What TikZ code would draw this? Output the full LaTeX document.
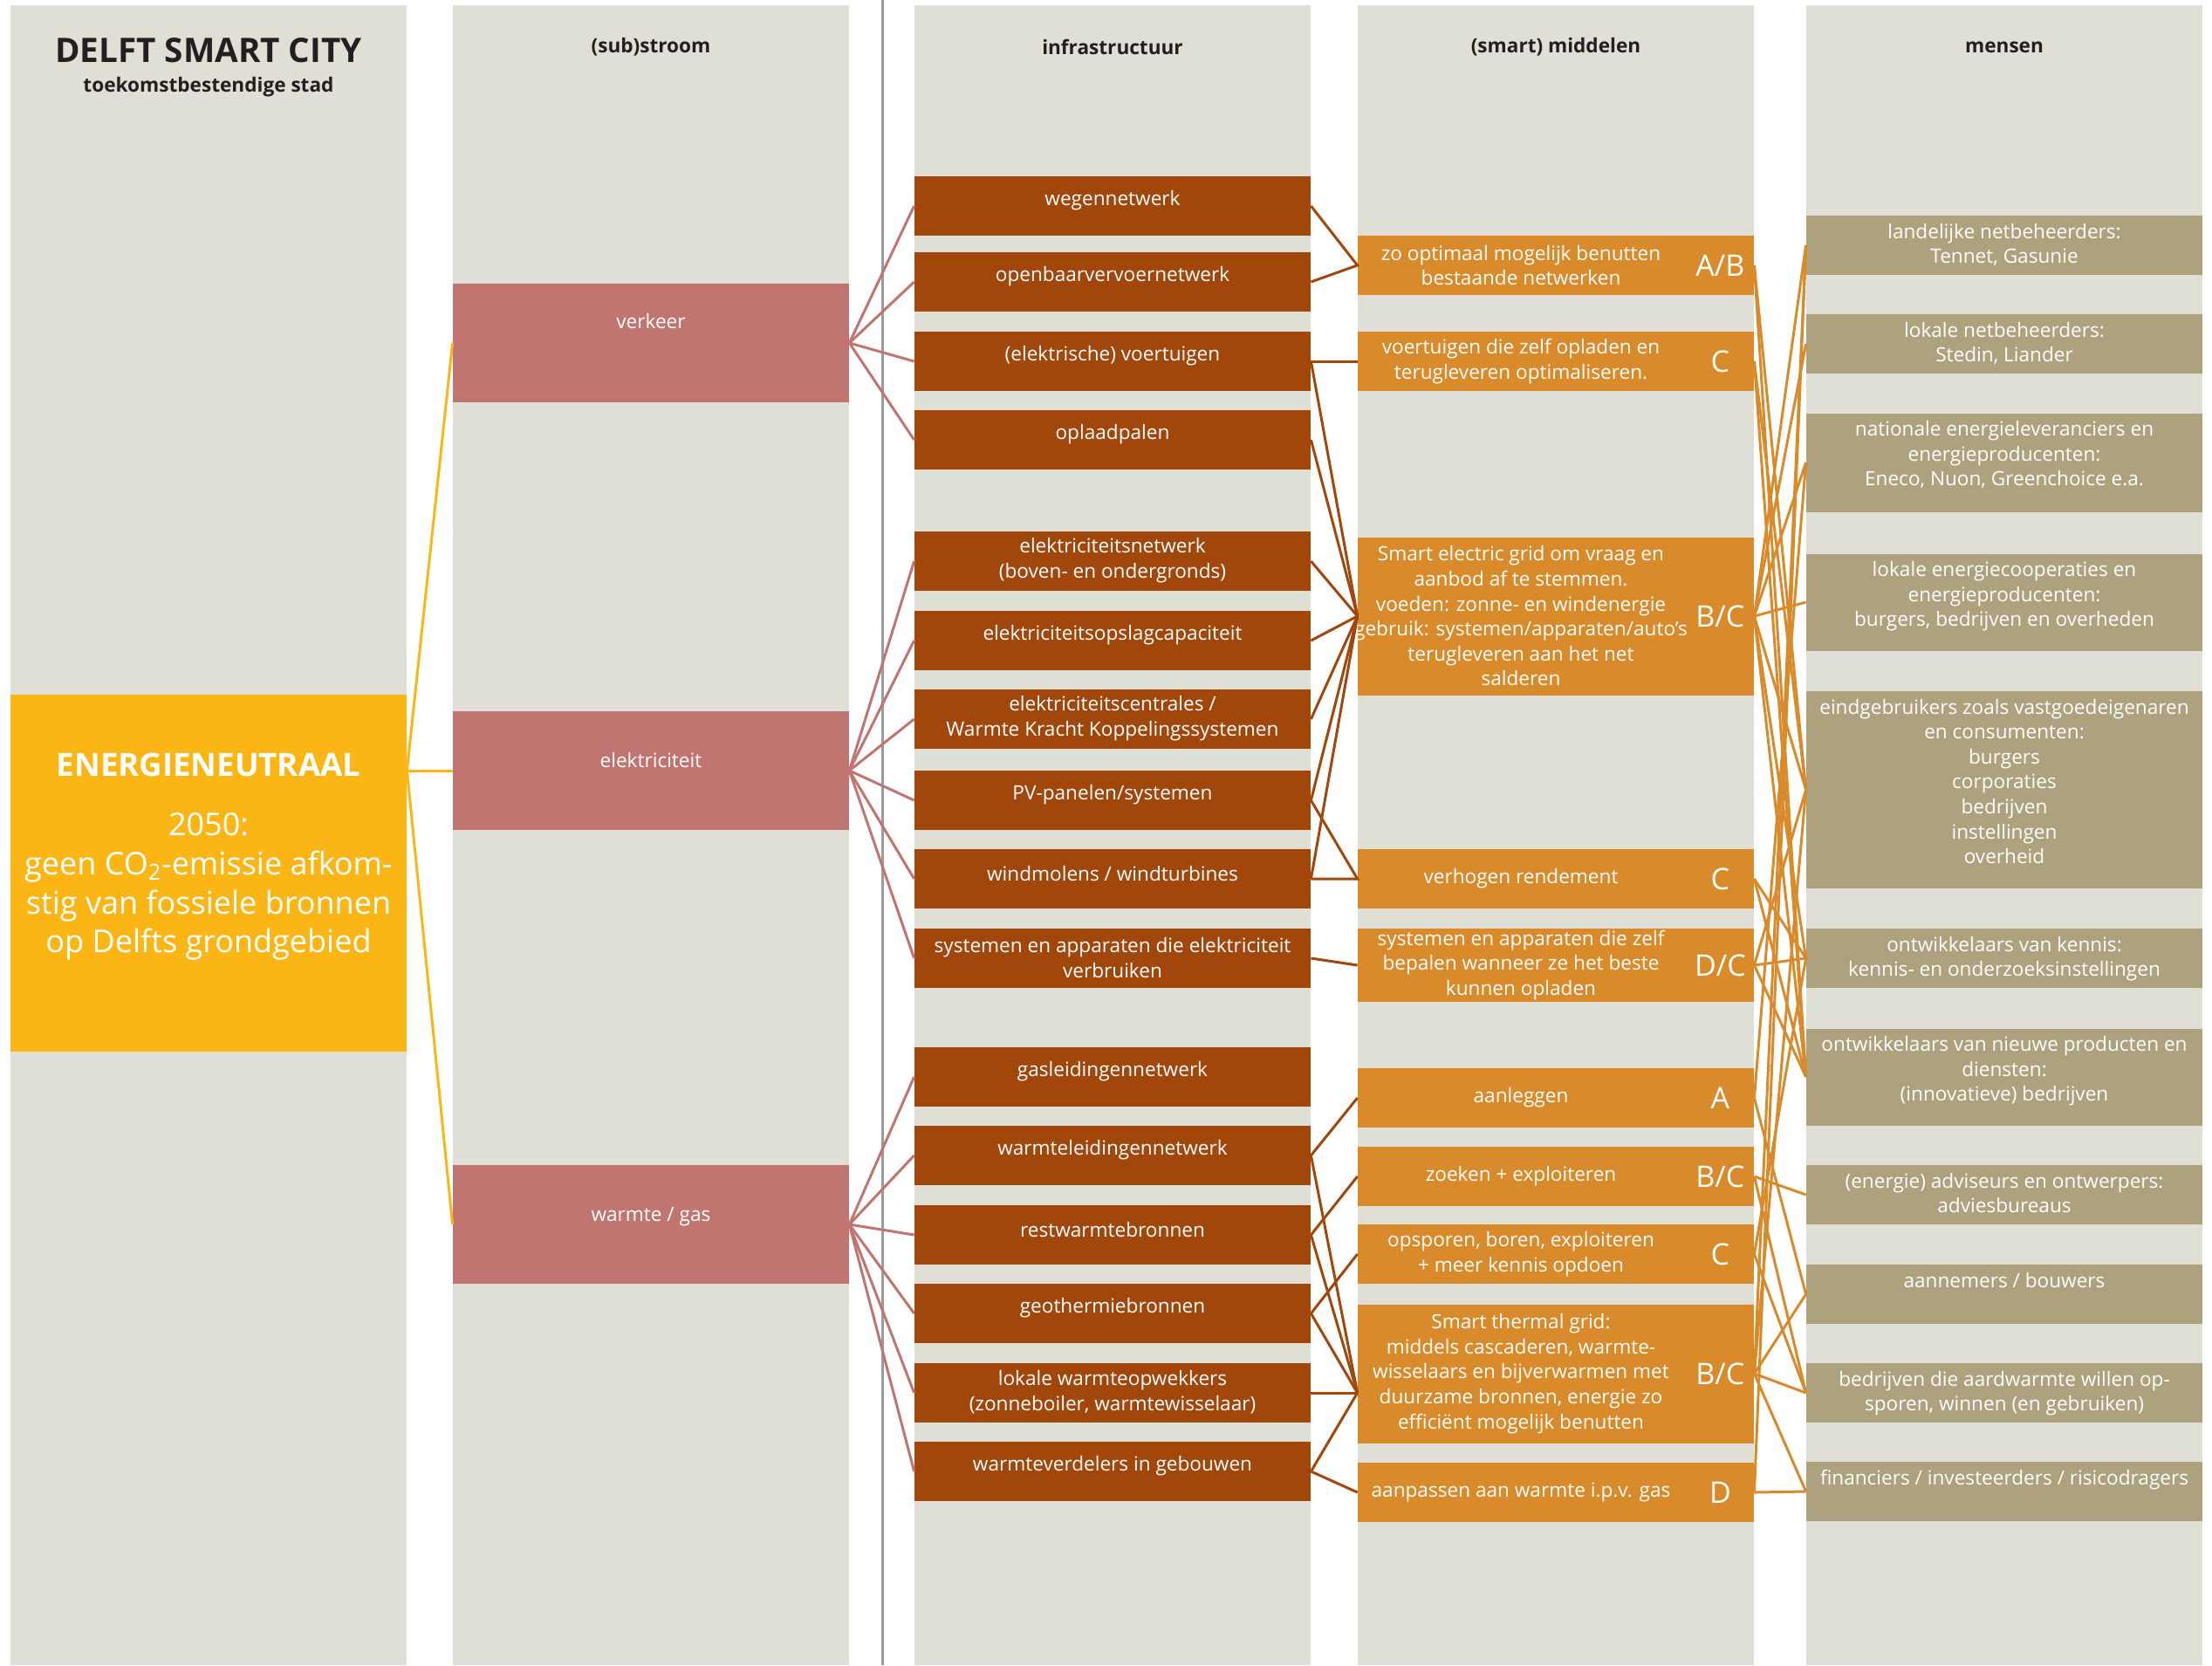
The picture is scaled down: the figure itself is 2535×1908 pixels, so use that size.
\documentclass[tikz,border=0pt]{standalone}
\usepackage{fontspec}
\setmainfont{Open Sans}

\definecolor{colbg}{HTML}{E0DFD5}
\definecolor{goalyellow}{HTML}{FBB616}
\definecolor{stroompink}{HTML}{C17571}
\definecolor{infrabrown}{HTML}{A2470C}
\definecolor{middelorange}{HTML}{D98A2A}
\definecolor{mensenkhaki}{HTML}{ADA17E}
\definecolor{divgrey}{HTML}{9B9B9B}
\definecolor{titleblack}{HTML}{231F20}

\tikzset{
    % Columns
    column/.style={fill=colbg},
    divider/.style={draw=divgrey, line width=1.5pt},
    header/.style={text=titleblack, font=\fontsize{11.3}{13}\selectfont\bfseries},
    %
    % Boxes
    box text/.style={text=white, align=center, inner sep=0pt, anchor=center, font=\fontsize{11.3}{14.3}\selectfont},
    basic box/.style={minimum width=227pt, inner sep=0pt},
    goal box/.style={basic box, fill=goalyellow, minimum height=204.5pt},
    goal text/.style={text=white, align=center, inner sep=0pt, anchor=center, font=\fontsize{18}{22.3}\selectfont},
    stroom/.style 2 args={basic box, fill=stroompink, minimum height=68pt, label={[box text, yshift=#2]center:{#1}}},
    infra/.style={basic box, fill=infrabrown, minimum height=34pt, label={[box text, yshift=3pt]center:{#1}}},
    infra2/.style={basic box, fill=infrabrown, minimum height=34pt, label={[box text, yshift=0.3pt]center:{#1}}},
    letter/.style={text=white, inner sep=0pt, anchor=center, xshift=-19.5pt, font=\fontsize{17}{20}\selectfont},
    middel/.style n args={3}{basic box, fill=middelorange, minimum height=#3, label={[box text, xshift=-20pt]center:{#1}}, label={[letter]east:#2}},
    mens/.style 2 args={basic box, fill=mensenkhaki, minimum height=#2, label={[box text, anchor=north, yshift=-4.5pt]north:{#1}}},
    %
    % Connectors
    goal line/.style={draw=goalyellow, line width=1.5pt},
    stroom line/.style={draw=stroompink, line width=1.5pt},
    infra line/.style={draw=infrabrown, line width=1.5pt},
    middel line/.style={draw=middelorange, line width=1.5pt}
}

\begin{document}
\begin{tikzpicture}[x=0.5pt, y=-0.5pt]
    \useasboundingbox (0,0) rectangle (2535,1908);

    % columns
    \foreach \x in {12,519,1048,1556,2070}
        \fill[column] (\x,6) rectangle ++(454,1902);
    \draw[divider] (1011,0) -- (1011,1908);

    % headers
    \node[text=titleblack, font=\fontsize{19.3}{21}\selectfont\bfseries] (title) at (239,58) {DELFT SMART CITY};
    \node[text=titleblack, font=\fontsize{11.3}{13}\selectfont\bfseries] (subtitle) at (239,100) {toekomstbestendige stad};
    \node[header] (h-stroom) at (746,54) {(sub)stroom};
    \node[header] (h-infra) at (1275,54) {infrastructuur};
    \node[header] (h-middel) at (1783,54) {(smart) middelen};
    \node[header] (h-mens) at (2297,54) {mensen};

    % goal
    \node[goal box, label={[goal text, yshift=9.25pt]center:{{\fontsize{18.3}{22}\selectfont\bfseries ENERGIENEUTRAAL}\\[12pt]2050:\\geen CO\textsubscript{2}-emissie afkom-\\stig van fossiele bronnen\\op Delfts grondgebied}}] (neutraal) at (239,1000) {};

    % (sub)stroom
    \node[stroom={verkeer}{12.5pt}] (verkeer) at (746,393) {};
    \node[stroom={elektriciteit}{6pt}] (elek) at (746,883) {};
    \node[stroom={warmte / gas}{4.5pt}] (warmte) at (746,1403) {};

    % infrastructuur
    \node[infra=wegennetwerk] (wegen) at (1275,236) {};
    \node[infra=openbaarvervoernetwerk] (ov) at (1275,323) {};
    \node[infra={(elektrische) voertuigen}] (voertuig) at (1275,414) {};
    \node[infra=oplaadpalen] (oplaad) at (1275,504) {};
    \node[infra2={elektriciteitsnetwerk\\(boven- en ondergronds)}] (elnet) at (1275,643) {};
    \node[infra=elektriciteitsopslagcapaciteit] (opslag) at (1275,734) {};
    \node[infra2={elektriciteitscentrales /\\Warmte Kracht Koppelingssystemen}] (centrales) at (1275,824) {};
    \node[infra=PV-panelen/systemen] (pv) at (1275,917) {};
    \node[infra={windmolens / windturbines}] (wind) at (1275,1007) {};
    \node[infra2={systemen en apparaten die elektriciteit\\verbruiken}] (verbruik) at (1275,1098) {};
    \node[infra=gasleidingennetwerk] (gasnet) at (1275,1234) {};
    \node[infra=warmteleidingennetwerk] (warmtenet) at (1275,1324) {};
    \node[infra=restwarmtebronnen] (restwarmte) at (1275,1415) {};
    \node[infra=geothermiebronnen] (geo) at (1275,1505) {};
    \node[infra2={lokale warmteopwekkers\\(zonneboiler, warmtewisselaar)}] (lokaal) at (1275,1596) {};
    \node[infra={warmteverdelers in gebouwen}] (verdelers) at (1275,1686) {};

    % (smart) middelen
    \node[middel={zo optimaal mogelijk benutten\\bestaande netwerken}{A/B}{34pt}] (optimaal) at (1783,304) {};
    \node[middel={voertuigen die zelf opladen en\\terugleveren optimaliseren.}{C}{34pt}] (mvoertuig) at (1783,414) {};
    \node[middel={Smart electric grid om vraag en\\aanbod af te stemmen.\\voeden: zonne- en windenergie\\gebruik: systemen/apparaten/auto’s\\terugleveren aan het net\\salderen}{B/C}{90.5pt}] (grid) at (1783,706) {};
    \node[middel={verhogen rendement}{C}{34pt}] (rendement) at (1783,1007) {};
    \node[middel={systemen en apparaten die zelf\\bepalen wanneer ze het beste\\kunnen opladen}{D/C}{42pt}] (zelfladen) at (1783,1106) {};
    \node[middel={aanleggen}{A}{34pt}] (aanleggen) at (1783,1258) {};
    \node[middel={zoeken + exploiteren}{B/C}{34pt}] (zoeken) at (1783,1348) {};
    \node[middel={opsporen, boren, exploiteren\\+ meer kennis opdoen}{C}{34pt}] (opsporen) at (1783,1437) {};
    \node[middel={Smart thermal grid:\\middels cascaderen, warmte-\\wisselaars en bijverwarmen met\\duurzame bronnen, energie zo\\efficiënt mogelijk benutten}{B/C}{79.5pt}] (thermal) at (1783,1574) {};
    \node[middel={aanpassen aan warmte i.p.v. gas}{D}{34pt}] (aanpassen) at (1783,1710) {};

    % mensen
    \node[mens={landelijke netbeheerders:\\Tennet, Gasunie}{34pt}] (landelijk) at (2297,281) {};
    \node[mens={lokale netbeheerders:\\Stedin, Liander}{34pt}] (lokaalnb) at (2297,394) {};
    \node[mens={nationale energieleveranciers en\\energieproducenten:\\Eneco, Nuon, Greenchoice e.a.}{56.5pt}] (nationaal) at (2297,530) {};
    \node[mens={lokale energiecooperaties en\\energieproducenten:\\burgers, bedrijven en overheden}{55.5pt}] (coop) at (2297,690) {};
    \node[mens={eindgebruikers zoals vastgoedeigenaren\\en consumenten:\\burgers\\corporaties\\bedrijven\\instellingen\\overheid}{113pt}] (eind) at (2297,905) {};
    \node[mens={ontwikkelaars van kennis:\\kennis- en onderzoeksinstellingen}{34pt}] (kennis) at (2297,1098) {};
    \node[mens={ontwikkelaars van nieuwe producten en\\diensten:\\(innovatieve) bedrijven}{55.5pt}] (nieuw) at (2297,1234) {};
    \node[mens={(energie) adviseurs en ontwerpers:\\adviesbureaus}{34pt}] (advies) at (2297,1369) {};
    \node[mens={aannemers / bouwers}{34pt}] (bouw) at (2297,1483) {};
    \node[mens={bedrijven die aardwarmte willen op-\\sporen, winnen (en gebruiken)}{34pt}] (aardwarmte) at (2297,1596) {};
    \node[mens={financiers / investeerders / risicodragers}{34pt}] (financier) at (2297,1709) {};

    % goal -> (sub)stroom
    \coordinate (hub) at (neutraal.east |- elek.west);
    \foreach \to in {verkeer,elek,warmte}
        \draw[goal line] (hub) -- (\to.west);

    % (sub)stroom -> infrastructuur
    \foreach \to in {wegen,ov,voertuig,oplaad}
        \draw[stroom line] (verkeer.east) -- (\to.west);
    \foreach \to in {elnet,opslag,centrales,pv,wind,verbruik}
        \draw[stroom line] (elek.east) -- (\to.west);
    \foreach \to in {gasnet,warmtenet,restwarmte,geo,lokaal,verdelers}
        \draw[stroom line] (warmte.east) -- (\to.west);

    % infrastructuur -> middelen
    \draw[infra line] (wegen.east) -- (optimaal.west) -- (ov.east);
    \draw[infra line] (voertuig.east) -- (mvoertuig.west);
    \foreach \from in {voertuig,oplaad,elnet,opslag,centrales,pv,wind}
        \draw[infra line] (\from.east) -- (grid.west);
    \draw[infra line] (pv.east) -- (rendement.west) -- (wind.east);
    \draw[infra line] (verbruik.east) -- (zelfladen.west);
    \draw[infra line] (warmtenet.east) -- (aanleggen.west);
    \draw[infra line] (restwarmte.east) -- (zoeken.west);
    \draw[infra line] (geo.east) -- (opsporen.west);
    \coordinate (thermal in) at (thermal.west |- lokaal.east);
    \foreach \from in {warmtenet,restwarmte,geo,lokaal,verdelers}
        \draw[infra line] (\from.east) -- (thermal in);
    \draw[infra line] (verdelers.east) -- (aanpassen.west);

    % middelen -> mensen
    \foreach \to in {eind,nieuw}
        \draw[middel line] (optimaal.east) -- (\to.west);
    \foreach \to in {eind,nieuw}
        \draw[middel line] (mvoertuig.east) -- (\to.west);
    \foreach \to in {landelijk,lokaalnb,nationaal,coop,eind,kennis,nieuw}
        \draw[middel line] (grid.east) -- (\to.west);
    \foreach \to in {kennis,nieuw}
        \draw[middel line] (rendement.east) -- (\to.west);
    \foreach \to in {kennis,nieuw,eind}
        \draw[middel line] (zelfladen.east) -- (\to.west);
    \foreach \to in {bouw,nationaal}
        \draw[middel line] (aanleggen.east) -- (\to.west);
    \foreach \to in {advies,aardwarmte}
        \draw[middel line] (zoeken.east) -- (\to.west);
    \foreach \to in {aardwarmte,kennis}
        \draw[middel line] (opsporen.east) -- (\to.west);
    \foreach \to in {bouw,aardwarmte,financier,eind,landelijk}
        \draw[middel line] (thermal.east) -- (\to.west);
    \foreach \to in {financier,landelijk}
        \draw[middel line] (aanpassen.east) -- (\to.west);
\end{tikzpicture}
\end{document}
